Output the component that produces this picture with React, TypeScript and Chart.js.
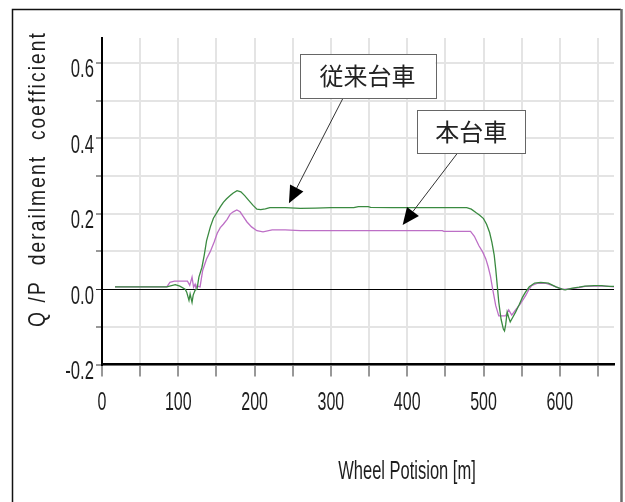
import { useEffect, useRef } from 'react';
import { Chart, registerables } from 'chart.js';

Chart.register(...registerables);

// ---- data ----
const conventionalName = '従来台車';
const conventionalX = [17, 85, 96, 102, 109, 111, 114, 115.5, 118, 119.5, 122, 124.5, 127, 131, 134, 137, 142, 146, 150.5, 155, 159, 163, 168, 172, 177, 182, 187, 192, 198, 203, 208, 214, 220, 240, 260, 280, 300, 330, 336, 349, 352, 380, 400, 440, 478, 484, 490, 495, 500, 504, 508, 511, 514, 516, 518, 520, 523, 526, 527.5, 529, 531, 533, 535, 538, 542, 547, 551, 555, 560, 567, 575, 585, 595, 603, 607, 615, 625, 633, 645, 655, 660, 665, 671];
const conventionalY = [0.006, 0.006, 0.012, 0.008, 0.0, -0.008, -0.03, -0.013, -0.035, -0.016, -0.003, 0.0, 0.032, 0.058, 0.09, 0.128, 0.165, 0.188, 0.203, 0.218, 0.23, 0.239, 0.248, 0.255, 0.261, 0.258, 0.248, 0.236, 0.222, 0.212, 0.211, 0.213, 0.216, 0.216, 0.214, 0.215, 0.216, 0.216, 0.219, 0.219, 0.217, 0.216, 0.216, 0.216, 0.216, 0.212, 0.203, 0.196, 0.187, 0.172, 0.15, 0.124, 0.09, 0.053, 0.01, -0.035, -0.08, -0.106, -0.111, -0.095, -0.061, -0.075, -0.087, -0.076, -0.061, -0.04, -0.022, -0.008, 0.006, 0.016, 0.018, 0.016, 0.006, 0.0, -0.002, 0.002, 0.005, 0.008, 0.009, 0.009, 0.008, 0.007, 0.007];

const newName = '本台車';
const newX = [17, 85, 89, 95, 112, 115, 118, 120, 122, 123, 125, 128.5, 132, 137, 142, 147, 151, 155, 159, 164, 168, 172, 176.7, 181, 185, 190, 196, 203, 211, 223, 240, 260, 300, 400, 446, 448, 483, 488, 494, 499, 503, 506, 509, 512, 516, 520, 529, 533, 537, 542, 548, 555, 559, 563, 570, 581, 590, 598, 605, 615, 625, 633, 645, 660, 671];
const newY = [0.006, 0.006, 0.018, 0.021, 0.021, 0.01, 0.032, 0.005, 0.013, 0.003, 0.008, 0.006, 0.05, 0.08, 0.1, 0.125, 0.148, 0.163, 0.172, 0.185, 0.199, 0.205, 0.21, 0.205, 0.193, 0.178, 0.165, 0.155, 0.152, 0.157, 0.157, 0.155, 0.155, 0.155, 0.155, 0.153, 0.153, 0.14, 0.115, 0.098, 0.08, 0.06, 0.035, 0.0, -0.044, -0.071, -0.071, -0.055, -0.069, -0.055, -0.04, -0.018, -0.003, 0.009, 0.015, 0.016, 0.01, 0.003, -0.001, 0.001, 0.004, 0.007, 0.008, 0.008, 0.006];

const xTickLabels = [0, 100, 200, 300, 400, 500, 600];
const yTickLabels = [0.6, 0.4, 0.2, 0.0, -0.2];
const xTitle = 'Wheel Potision [m]';
const yTitle = 'Q /P  derailment  coefficient';

// callouts: box centre and arrow start/tip, in data units
const callouts = [
  { text: conventionalName, boxX: 348, boxY: 0.565, boxW: 136, boxH: 44, fromX: 316, fromY: 0.507, toX: 245, toY: 0.228 },
  { text: newName, boxX: 484, boxY: 0.418, boxW: 108, boxH: 43, fromX: 466, fromY: 0.361, toX: 394, toY: 0.17 },
];

const FONT = '"Liberation Sans", Arial, sans-serif';

function squashText(ctx: CanvasRenderingContext2D, text: string, x: number, y: number, align: CanvasTextAlign, sx: number, size: number, ls = 0, rot = 0) {
  ctx.save();
  ctx.font = `${size}px ${FONT}`;
  (ctx as any).letterSpacing = `${ls}px`;
  ctx.translate(x, y);
  if (rot) ctx.rotate(rot);
  ctx.scale(sx, 1);
  ctx.textAlign = align;
  ctx.textBaseline = 'alphabetic';
  ctx.fillStyle = '#1e1e1e';
  ctx.fillText(text, 0, 0);
  ctx.restore();
}

const framePlugin = {
  id: 'frame',
  beforeDraw(chart: any) {
    const ctx = chart.ctx as CanvasRenderingContext2D;
    ctx.save();
    ctx.fillStyle = '#ffffff';
    ctx.fillRect(0, 0, chart.width, chart.height);
    ctx.strokeStyle = '#111';
    ctx.lineWidth = 1.5;
    ctx.beginPath();
    ctx.moveTo(12.5, chart.height);
    ctx.lineTo(12.5, 9.5);
    ctx.lineTo(621, 9.5);
    ctx.stroke();
    ctx.strokeStyle = '#6a6a6a';
    ctx.lineWidth = 2.5;
    ctx.beginPath();
    ctx.moveTo(621.5, 9);
    ctx.lineTo(621.5, chart.height);
    ctx.stroke();
    ctx.restore();
  },
  afterDraw(chart: any) {
    const ctx = chart.ctx as CanvasRenderingContext2D;
    const xs = chart.scales.x;
    const ys = chart.scales.y;
    for (const v of xTickLabels) {
      squashText(ctx, String(v), xs.getPixelForValue(v), 410, 'center', 0.64, 25);
    }
    for (const v of yTickLabels) {
      squashText(ctx, v.toFixed(1), 94, ys.getPixelForValue(v) + 14.5, 'right', 0.64, 26);
    }
    squashText(ctx, xTitle, (chart.chartArea.left + chart.chartArea.right) / 2 + 49, 479, 'center', 0.66, 25);
    squashText(ctx, yTitle, 45, 179, 'center', 0.8, 24, 2.6, -Math.PI / 2);

    // callouts
    for (const c of callouts) {
      const bx = xs.getPixelForValue(c.boxX);
      const by = ys.getPixelForValue(c.boxY);
      const fx = xs.getPixelForValue(c.fromX);
      const fy = ys.getPixelForValue(c.fromY);
      const tx = xs.getPixelForValue(c.toX);
      const ty = ys.getPixelForValue(c.toY);
      ctx.save();
      ctx.strokeStyle = '#333';
      ctx.lineWidth = 1;
      const dx = tx - fx, dy = ty - fy;
      const len = Math.hypot(dx, dy);
      const ux = dx / len, uy = dy / len;
      const hl = 17, hw = 7.5;
      ctx.beginPath();
      ctx.moveTo(fx, fy);
      ctx.lineTo(tx - ux * hl, ty - uy * hl);
      ctx.stroke();
      ctx.fillStyle = '#000';
      ctx.beginPath();
      ctx.moveTo(tx, ty);
      ctx.lineTo(tx - ux * hl - uy * hw, ty - uy * hl + ux * hw);
      ctx.lineTo(tx - ux * hl + uy * hw, ty - uy * hl - ux * hw);
      ctx.closePath();
      ctx.fill();
      ctx.fillStyle = '#fff';
      ctx.fillRect(bx - c.boxW / 2, by - c.boxH / 2, c.boxW, c.boxH);
      ctx.strokeStyle = '#666';
      ctx.strokeRect(Math.round(bx - c.boxW / 2) + 0.5, Math.round(by - c.boxH / 2) + 0.5, c.boxW, c.boxH);
      ctx.fillStyle = '#222';
      ctx.font = '24px "Noto Sans CJK JP", sans-serif';
      ctx.textAlign = 'center';
      ctx.textBaseline = 'middle';
      ctx.fillText(c.text, bx, by);
      ctx.restore();
    }
  },
};

export default function App() {
  const ref = useRef<HTMLCanvasElement | null>(null);
  useEffect(() => {
    if (!ref.current) return;
    const chart = new Chart(ref.current, {
      type: 'line',
      data: {
        datasets: [
          {
            label: conventionalName,
            data: conventionalX.map((x, i) => ({ x, y: conventionalY[i] })),
            borderColor: '#3a8a40',
            borderWidth: 1.3,
            pointRadius: 0,
            tension: 0,
          },
          {
            label: newName,
            data: newX.map((x, i) => ({ x, y: newY[i] })),
            borderColor: '#bd6fc6',
            borderWidth: 1.3,
            pointRadius: 0,
            tension: 0,
          },
        ],
      },
      options: {
        animation: false,
        responsive: false,
        maintainAspectRatio: false,
        layout: { padding: { left: 96, right: 11, top: 38, bottom: 125.5 } },
        plugins: { legend: { display: false }, tooltip: { enabled: false }, title: { display: false } },
        scales: {
          x: {
            type: 'linear',
            min: 0,
            max: 671,
            ticks: { display: false, stepSize: 50, includeBounds: false },
            grid: { color: '#e4e4e4', lineWidth: 2, tickLength: 12, tickColor: '#333', tickWidth: 1 },
            border: { color: '#000', width: 2.5 },
          },
          y: {
            type: 'linear',
            min: -0.2,
            max: 0.666,
            ticks: { display: false, stepSize: 0.1, includeBounds: false },
            grid: {
              color: (c: any) => (Math.abs(c.tick?.value ?? 1) < 1e-9 ? '#000' : '#e4e4e4'),
              lineWidth: (c: any) => (Math.abs(c.tick?.value ?? 1) < 1e-9 ? 1 : 2),
              tickLength: 6,
              tickColor: '#333',
              tickWidth: 1,
            },
            border: { color: '#000', width: 2 },
          },
        },
      },
      plugins: [framePlugin],
    });
    return () => chart.destroy();
  }, []);
  return (
    <div style={{ position: 'fixed', left: 0, top: 0, width: 625, height: 502, background: '#fff' }}>
      <canvas ref={ref} width={625} height={502} style={{ display: 'block', width: 625, height: 502 }} />
    </div>
  );
}
